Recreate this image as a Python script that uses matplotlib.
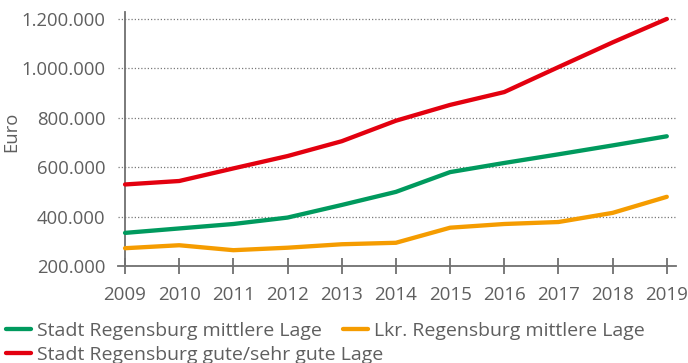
import matplotlib
matplotlib.use("Agg")
import matplotlib.pyplot as plt
from matplotlib.ticker import FuncFormatter

# Kaufpreise Einfamilienhaus, Euro
years = [2009, 2010, 2011, 2012, 2013, 2014, 2015, 2016, 2017, 2018, 2019]
stadt_mittel = [334000, 352000, 370000, 396000, 447000, 500000, 580000, 617000, 652000, 688000, 725000]
lkr_mittel = [272000, 284000, 264000, 274000, 288000, 294000, 355000, 370000, 378000, 415000, 480000]
stadt_gut = [530000, 544000, 595000, 645000, 705000, 788000, 852000, 904000, 1005000, 1105000, 1200000]

labels = ["Stadt Regensburg mittlere Lage",
          "Lkr. Regensburg mittlere Lage",
          "Stadt Regensburg gute/sehr gute Lage"]
y_ticks = [200000, 400000, 600000, 800000, 1000000, 1200000]

GREEN = "#009a5e"
ORANGE = "#f59c00"
RED = "#e3000f"
TEXT = "#5f5f5f"

plt.rcParams['font.family'] = ['Open Sans', 'DejaVu Sans']

fig = plt.figure(figsize=(6.88, 3.63), dpi=100)
ax = fig.add_axes([118 / 688, 97 / 363, 558 / 688, 254 / 363])

l_green, = ax.plot(years, stadt_mittel, color=GREEN, lw=3.1, solid_capstyle="round", zorder=3)
l_orange, = ax.plot(years, lkr_mittel, color=ORANGE, lw=3.1, solid_capstyle="round", zorder=3)
l_red, = ax.plot(years, stadt_gut, color=RED, lw=3.1, solid_capstyle="round", zorder=3)

ax.set_xlim(2008.87, 2019.17)
ax.set_ylim(200000, 1228000)
ax.set_xticks(years)
ax.set_yticks(y_ticks)
ax.yaxis.set_major_formatter(FuncFormatter(lambda v, p: f"{int(v):,}".replace(",", ".")))

# dotted horizontal grid, y-axis spine sits on 2009
ax.grid(axis="y", linestyle=(0, (1, 1.6)), color="#7a7a7a", lw=0.9)
ax.spines['left'].set_position(('data', 2009))
for s in ["top", "right"]:
    ax.spines[s].set_visible(False)
for s in ["left", "bottom"]:
    ax.spines[s].set_color("#707070")
    ax.spines[s].set_linewidth(1.3)

ax.tick_params(axis="x", direction="inout", length=11, width=1.3, color="#707070",
               labelsize=13.5, labelcolor=TEXT, pad=9)
ax.tick_params(axis="y", length=0, labelsize=13.3, labelcolor=TEXT, pad=14)

ax.set_ylabel("Euro", fontsize=13.3, color=TEXT)
ax.yaxis.set_label_coords(-0.176, 0.53)

# legend: two rows, first row holds both "mittlere Lage" entries
leg_kw = dict(loc="upper left", frameon=False, fontsize=14, labelcolor=TEXT,
              handlelength=1.3, handletextpad=0.3, columnspacing=1.1,
              borderaxespad=0, borderpad=0.3)
fig.legend([l_green, l_orange], [labels[0], labels[1]], ncol=2,
           bbox_to_anchor=(0.0, 47 / 363), **leg_kw)
fig.legend([l_red], [labels[2]], bbox_to_anchor=(0.0, 23 / 363), **leg_kw)

fig.savefig("out.png", dpi=100)
